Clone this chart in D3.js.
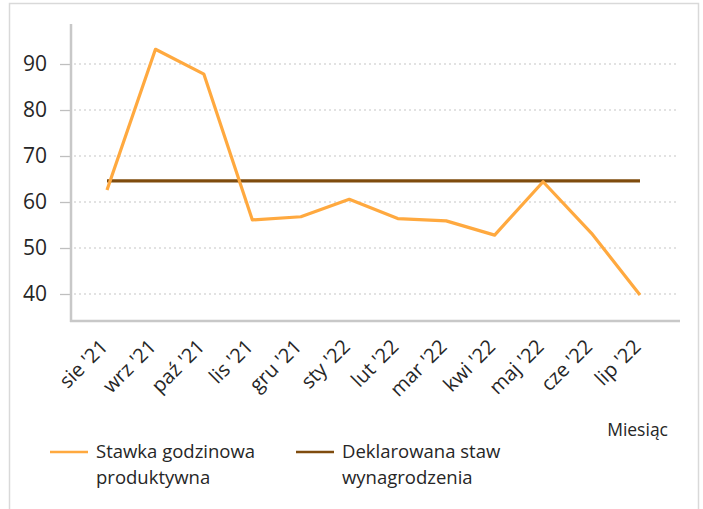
<!DOCTYPE html>
<html>
<head>
<meta charset="utf-8">
<script src="https://cdn.jsdelivr.net/npm/d3@7"></script>
<style>
  body { margin: 0; background: #fff; }
  text { font-family: "Open Sans", sans-serif; fill: #262626; }
</style>
</head>
<body>
<div id="chart"></div>
<script>
var months = ["sie '21", "wrz '21", "paź '21", "lis '21", "gru '21", "sty '22",
              "lut '22", "mar '22", "kwi '22", "maj '22", "cze '22", "lip '22"]
var hourlyRate = [62.6, 93.2, 87.8, 56.1, 56.8, 60.6, 56.4, 55.9, 52.8, 64.4, 53.2, 39.8]
var declaredRate = [64.6, 64.6, 64.6, 64.6, 64.6, 64.6, 64.6, 64.6, 64.6, 64.6, 64.6, 64.6]
var yTicks = [40, 50, 60, 70, 80, 90]

var width = 703
var height = 509

var svg = d3.select("#chart")
  .append("svg")
  .attr("width", width)
  .attr("height", height)

// outer frame
svg.append("rect")
  .attr("x", 9.5).attr("y", 3.5)
  .attr("width", 689).attr("height", 520)
  .attr("fill", "none")
  .attr("stroke", "#d9d9d9")
  .attr("stroke-width", 1.5)

var x = d3.scalePoint()
  .domain(months)
  .range([107, 640])

var y = d3.scaleLinear()
  .domain([34.13, 98.7])
  .range([321, 24])

// gridlines
svg.append("g")
  .selectAll("line")
  .data(yTicks)
  .join("line")
    .attr("x1", 74).attr("x2", 677)
    .attr("y1", d => y(d)).attr("y2", d => y(d))
    .attr("stroke", "#d9d9d9")
    .attr("stroke-width", 1.3)
    .attr("stroke-dasharray", "2,3")

// y axis
var yAxis = svg.append("g")
  .attr("transform", "translate(71,0)")
  .call(d3.axisLeft(y).tickValues(yTicks).tickSize(11).tickPadding(13))
yAxis.select(".domain").remove()
yAxis.selectAll(".tick line").attr("stroke", "#bfbfbf").attr("stroke-width", 1.3)
yAxis.selectAll(".tick text")
  .style("font-family", "Open Sans, sans-serif")
  .style("font-size", "21px")
  .attr("fill", "#262626")

svg.append("line")
  .attr("x1", 71).attr("x2", 71).attr("y1", 24).attr("y2", 322)
  .attr("stroke", "#c8c8c8").attr("stroke-width", 2.5)
svg.append("line")
  .attr("x1", 70).attr("x2", 680).attr("y1", 321).attr("y2", 321)
  .attr("stroke", "#c8c8c8").attr("stroke-width", 2.5)

// x labels
svg.append("g")
  .selectAll("text")
  .data(months)
  .join("text")
    .attr("transform", d => `translate(${x(d) + 2},${348}) rotate(-45)`)
    .attr("text-anchor", "end")
    .style("font-size", "20px")
    .text(d => d)

var line = d3.line()
  .x((d, i) => x(months[i]))
  .y(d => y(d))

svg.append("path")
  .datum(declaredRate)
  .attr("fill", "none")
  .attr("stroke", "#7f4c0e")
  .attr("stroke-width", 3.2)
  .attr("d", line)

svg.append("path")
  .datum(hourlyRate)
  .attr("fill", "none")
  .attr("stroke", "#ffa93f")
  .attr("stroke-width", 3.2)
  .attr("stroke-linejoin", "round")
  .attr("d", line)

// axis title
svg.append("text")
  .attr("x", 668).attr("y", 436)
  .attr("text-anchor", "end")
  .style("font-size", "17.5px")
  .text("Miesiąc")

// legend
var legend = [
  {name: ["Stawka godzinowa", "produktywna"], color: "#ffa93f", x: 50},
  {name: ["Deklarowana staw", "wynagrodzenia"], color: "#7f4c0e", x: 296}
]
var lg = svg.append("g").selectAll("g").data(legend).join("g")
  .attr("transform", d => `translate(${d.x},452)`)
lg.append("line")
  .attr("x1", 0).attr("x2", 38)
  .attr("stroke", d => d.color).attr("stroke-width", 2.5)
lg.append("text")
  .attr("x", 46).attr("y", 6)
  .style("font-size", "18.5px")
  .selectAll("tspan")
  .data(d => d.name)
  .join("tspan")
    .attr("x", 46)
    .attr("dy", (d, i) => i ? 26 : 0)
    .text(d => d)
</script>
</body>
</html>
